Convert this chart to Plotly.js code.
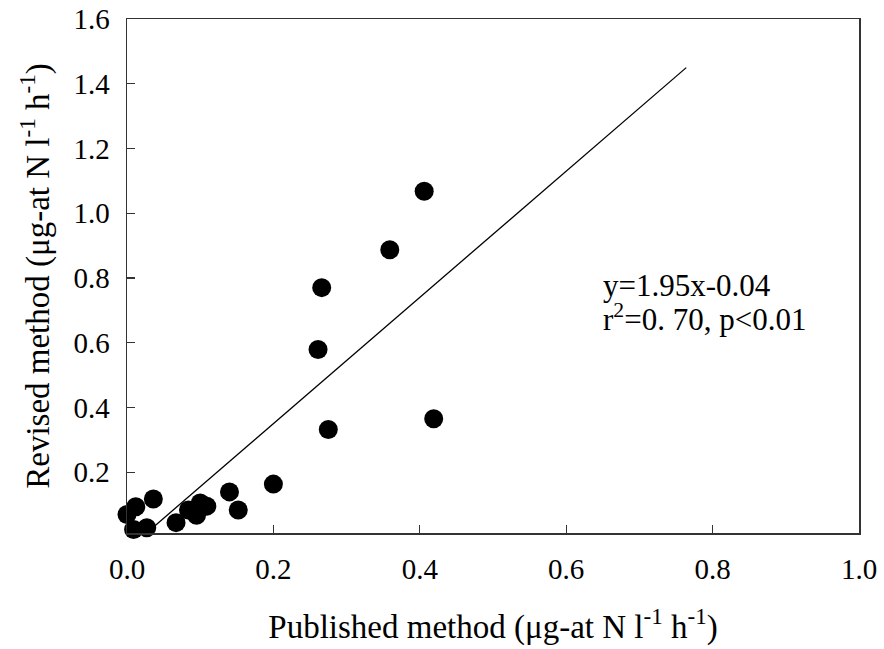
<!DOCTYPE html>
<html>
<head>
<meta charset="utf-8">
<script src="https://cdn.plot.ly/plotly-3.0.1.min.js"></script>
<style>html,body{margin:0;padding:0;background:#fff;}#chart{width:884px;height:649px;}</style>
</head>
<body>
<div id="chart"></div>
<script>
// Observed points (Published method vs Revised method)
const publishedX = [0.000, 0.012, 0.036, 0.009, 0.027, 0.067, 0.084, 0.095, 0.100, 0.109, 0.140, 0.152, 0.200, 0.275, 0.261, 0.266, 0.359, 0.406, 0.419];
const revisedY   = [0.069, 0.093, 0.117, 0.023, 0.028, 0.044, 0.083, 0.067, 0.105, 0.095, 0.139, 0.083, 0.163, 0.332, 0.579, 0.770, 0.887, 1.068, 0.365];
// Regression line y = 1.95x - 0.04, drawn over this x span
const slope = 1.95, intercept = -0.04;
const fitX = [0.028, 0.764];
const fitY = fitX.map(v => slope * v + intercept);
const xTicks = [0.0, 0.2, 0.4, 0.6, 0.8, 1.0];
const xTickText = ['0.0', '0.2', '0.4', '0.6', '0.8', '1.0'];
const yTicks = [0.2, 0.4, 0.6, 0.8, 1.0, 1.2, 1.4, 1.6];
const yTickText = ['0.2', '0.4', '0.6', '0.8', '1.0', '1.2', '1.4', '1.6'];
const statLines = ['y=1.95x-0.04', 'r<sup>2</sup>=0. 70, p<0.01'];

const font = '"Liberation Serif", "Times New Roman", serif';
const data = [
  {x: fitX, y: fitY, mode: 'lines', type: 'scatter', line: {color: '#000', width: 1.3}, hoverinfo: 'skip', showlegend: false, cliponaxis: false},
  {x: publishedX, y: revisedY, mode: 'markers', type: 'scatter', marker: {color: '#000', size: 19}, cliponaxis: false, showlegend: false}
];
const axisCommon = {
  showgrid: false, zeroline: false, showline: true, linecolor: '#333', linewidth: 1.5,
  mirror: true, ticks: 'inside', ticklen: 8, tickwidth: 1.2, tickcolor: '#333',
  tickfont: {family: font, size: 29, color: '#000'}, ticklabelstandoff: 10
};
const layout = {
  width: 884, height: 649,
  margin: {l: 127, r: 25, t: 19, b: 116},
  paper_bgcolor: '#fff', plot_bgcolor: '#fff',
  font: {family: font, color: '#000', size: 29},
  xaxis: Object.assign({}, axisCommon, {
    range: [0, 1.0], tickvals: xTicks, ticktext: xTickText,
    title: {text: 'Published method (μg-at N l<sup>-1</sup> h<sup>-1</sup>)', font: {family: font, size: 33}, standoff: 30}
  }),
  yaxis: Object.assign({}, axisCommon, {
    range: [0.012, 1.6], tickvals: yTicks, ticktext: yTickText,
    title: {text: 'Revised method (μg-at N l<sup>-1</sup> h<sup>-1</sup>)', font: {family: font, size: 33}, standoff: 14}
  }),
  annotations: statLines.map((t, i) => ({
    xref: 'paper', yref: 'paper', x: 0.647, y: 0.482 - i * 0.062, xanchor: 'left', yanchor: 'middle', align: 'left', showarrow: false,
    text: t, font: {family: font, size: 31, color: '#000'}
  }))
};
Plotly.newPlot('chart', data, layout, {displayModeBar: false, staticPlot: true});
</script>
</body>
</html>
